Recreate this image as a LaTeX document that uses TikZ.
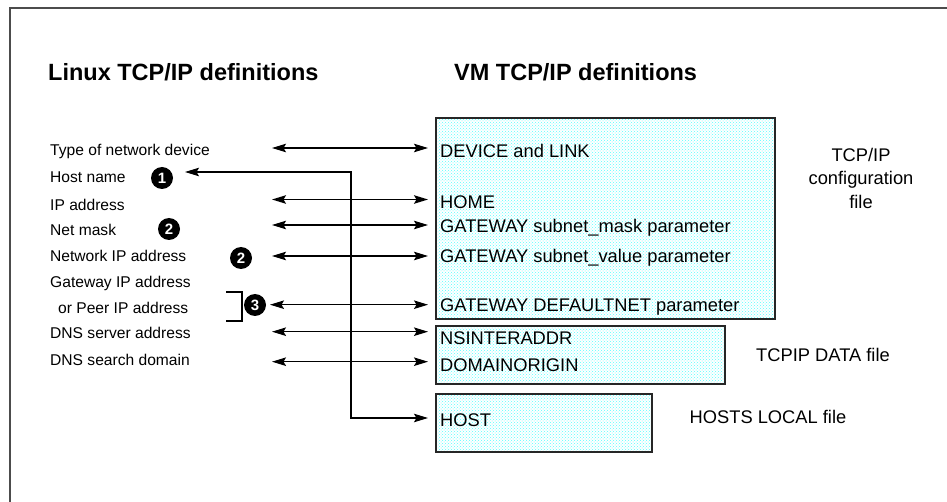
\documentclass[tikz,border=0pt]{standalone}
\usepackage{fontspec}
\setmainfont{Liberation Sans}
\usetikzlibrary{arrows.meta,patterns}
\begin{document}
\begin{tikzpicture}[
  x=1pt, y=-1pt,
  title/.style={font=\fontsize{23.5}{28}\selectfont\bfseries, anchor=west, inner sep=0pt, text height=17pt, text depth=0pt},
  linuxlbl/.style={font=\fontsize{15.6}{19}\selectfont, anchor=west, inner sep=0pt, text height=11.2pt, text depth=0pt},
  vmlbl/.style={font=\fontsize{18.3}{22}\selectfont, anchor=west, inner sep=0pt, text height=13.2pt, text depth=0pt},
  filelbl/.style={font=\fontsize{18.3}{23.5}\selectfont, align=center, inner sep=0pt},
  filebox/.style={draw=black!85, line width=1.6pt, anchor=north west, inner sep=0pt,
    preaction={fill=white}, preaction={pattern=crosshatch dots, pattern color=cyan!65}},
  num/.style={circle, fill=black, text=white, inner sep=0pt, minimum size=22pt, font=\fontsize{15}{15}\selectfont\bfseries},
  link/.style={line width=1.3pt, shorten >=7pt,
    {Stealth[length=14pt,width=8.5pt,inset=2.5pt]}-{Stealth[length=14pt,width=8.5pt,inset=2.5pt]}}
]
\useasboundingbox (0,0) rectangle (947,502);
\draw[gray!60!black, line width=1.8pt] (10,502) -- (10,8) -- (947,8);

\node[title] (ltitle) at (48,72) {Linux TCP/IP definitions};
\node[title] (vtitle) at (454,72) {VM TCP/IP definitions};

% Linux side
\node[linuxlbl] (dev) at (50,150) {Type of network device};
\node[linuxlbl] (host) at (50,177) {Host name};
\node[linuxlbl] (ip) at (50,205) {IP address};
\node[linuxlbl] (mask) at (50,230) {Net mask};
\node[linuxlbl] (netip) at (50,256) {Network IP address};
\node[linuxlbl] (gw) at (50,282) {Gateway IP address};
\node[linuxlbl] (peer) at (58,308) {or Peer IP address};
\node[linuxlbl] (dns) at (50,333) {DNS server address};
\node[linuxlbl] (dom) at (50,360) {DNS search domain};

\node[num] (n1) at (162,178) {1};
\node[num] (n2a) at (169,229) {2};
\node[num] (n2b) at (241,258) {2};
\node[num] (n3) at (255,305) {3};

\draw[line width=1.3pt] (226,292) -| (242,321) -- (226,321);

% VM side
\node[filebox, minimum width=339pt, minimum height=201pt] (cfg) at (435,117) {};
\node[filebox, minimum width=289pt, minimum height=58pt] (dat) at (435,325) {};
\node[filebox, minimum width=216pt, minimum height=58pt] (hst) at (435,393) {};

\node[vmlbl] (kdev) at (440,151) {DEVICE and LINK};
\node[vmlbl] (khome) at (440,202) {HOME};
\node[vmlbl] (kmask) at (440,226) {GATEWAY subnet\_mask parameter};
\node[vmlbl] (kval) at (440,255.5) {GATEWAY subnet\_value parameter};
\node[vmlbl] (kdef) at (440,304.5) {GATEWAY DEFAULTNET parameter};
\node[vmlbl] (kns) at (440,338) {NSINTERADDR};
\node[vmlbl] (kdo) at (440,364.5) {DOMAINORIGIN};
\node[vmlbl] (khost) at (440,420) {HOST};

\node[filelbl] (fcfg) at (861,178) {TCP/IP\\configuration\\file};
\node[filelbl] (fdat) at (823,355) {TCPIP DATA file};
\node[filelbl] (fhst) at (768,416.5) {HOSTS LOCAL file};

% arrows
\coordinate (a1) at (272,148);
\coordinate (a2) at (272,199.5);
\coordinate (a3) at (272,225);
\coordinate (a4) at (272,256);
\coordinate (a5) at (270,304.7);
\coordinate (a6) at (272,331.7);
\coordinate (a7) at (272,361.7);
\draw[link] (a1) -- (a1 -| cfg.west);
\draw[link] (a2) -- (a2 -| cfg.west);
\draw[link] (a3) -- (a3 -| cfg.west);
\draw[link] (a4) -- (a4 -| cfg.west);
\draw[link] (a5) -- (a5 -| cfg.west);
\draw[link] (a6) -- (a6 -| dat.west);
\draw[link] (a7) -- (a7 -| dat.west);

\coordinate (hn) at (185,172);
\coordinate (hb) at (351,418);
\draw[link] (hn) -| (hb) -- (hb -| hst.west);
\end{tikzpicture}
\end{document}
